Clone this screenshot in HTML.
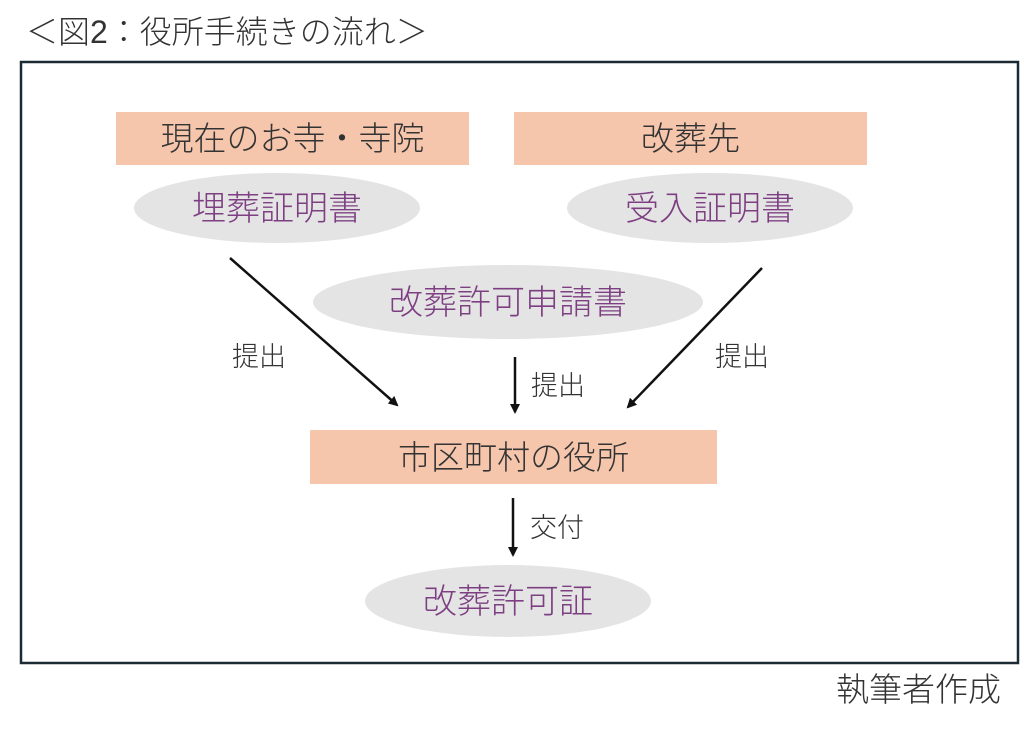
<!DOCTYPE html>
<html><head><meta charset="utf-8"><style>
html,body{margin:0;padding:0;background:#fff;}
svg{display:block;font-family:"Liberation Sans","Noto Sans CJK JP",sans-serif;font-weight:300;}
</style></head><body>
<svg width="1024" height="733" viewBox="0 0 1024 733" xmlns="http://www.w3.org/2000/svg">
<defs><marker id="ah" markerWidth="10" markerHeight="10" refX="8" refY="5" orient="auto" markerUnits="userSpaceOnUse"><path d="M0,0 L10,5 L0,10 z" fill="#111"/></marker></defs>
<text x="26" y="43" font-size="32" fill="#333">＜図2：役所手続きの流れ＞</text>
<rect x="21" y="62" width="997" height="601" fill="#fff" stroke="#1c2a33" stroke-width="2.5"/>
<rect x="116" y="112" width="353" height="53" fill="#f6c6ac"/>
<text x="292.5" y="150" font-size="33" fill="#333" text-anchor="middle">現在のお寺・寺院</text>
<rect x="514" y="112" width="353" height="53" fill="#f6c6ac"/>
<text x="690.5" y="150" font-size="33" fill="#333" text-anchor="middle">改葬先</text>
<ellipse cx="277" cy="208" rx="143" ry="35" fill="#e4e4e4"/>
<text x="277" y="220" font-size="34" fill="#7d3f82" text-anchor="middle">埋葬証明書</text>
<ellipse cx="710" cy="208" rx="143" ry="35" fill="#e4e4e4"/>
<text x="710" y="220" font-size="34" fill="#7d3f82" text-anchor="middle">受入証明書</text>
<ellipse cx="508" cy="302" rx="195" ry="37" fill="#e4e4e4"/>
<text x="508" y="314" font-size="34" fill="#7d3f82" text-anchor="middle">改葬許可申請書</text>
<line x1="230" y1="258" x2="397" y2="405" stroke="#111" stroke-width="2.5" marker-end="url(#ah)"/>
<line x1="762" y1="268" x2="628" y2="407" stroke="#111" stroke-width="2.5" marker-end="url(#ah)"/>
<line x1="515" y1="357" x2="515" y2="412" stroke="#111" stroke-width="2.5" marker-end="url(#ah)"/>
<text x="259" y="366" font-size="27" fill="#333" text-anchor="middle">提出</text>
<text x="742" y="366" font-size="27" fill="#333" text-anchor="middle">提出</text>
<text x="558" y="395" font-size="27" fill="#333" text-anchor="middle">提出</text>
<rect x="310" y="430" width="407" height="54" fill="#f6c6ac"/>
<text x="513.5" y="469" font-size="33" fill="#333" text-anchor="middle">市区町村の役所</text>
<line x1="513" y1="498" x2="513" y2="555" stroke="#111" stroke-width="2.5" marker-end="url(#ah)"/>
<text x="557" y="537" font-size="27" fill="#333" text-anchor="middle">交付</text>
<ellipse cx="508" cy="601" rx="143" ry="36" fill="#e4e4e4"/>
<text x="508" y="613" font-size="34" fill="#7d3f82" text-anchor="middle">改葬許可証</text>
<text x="1001" y="701" font-size="33" fill="#333" text-anchor="end">執筆者作成</text>
</svg>
</body></html>
